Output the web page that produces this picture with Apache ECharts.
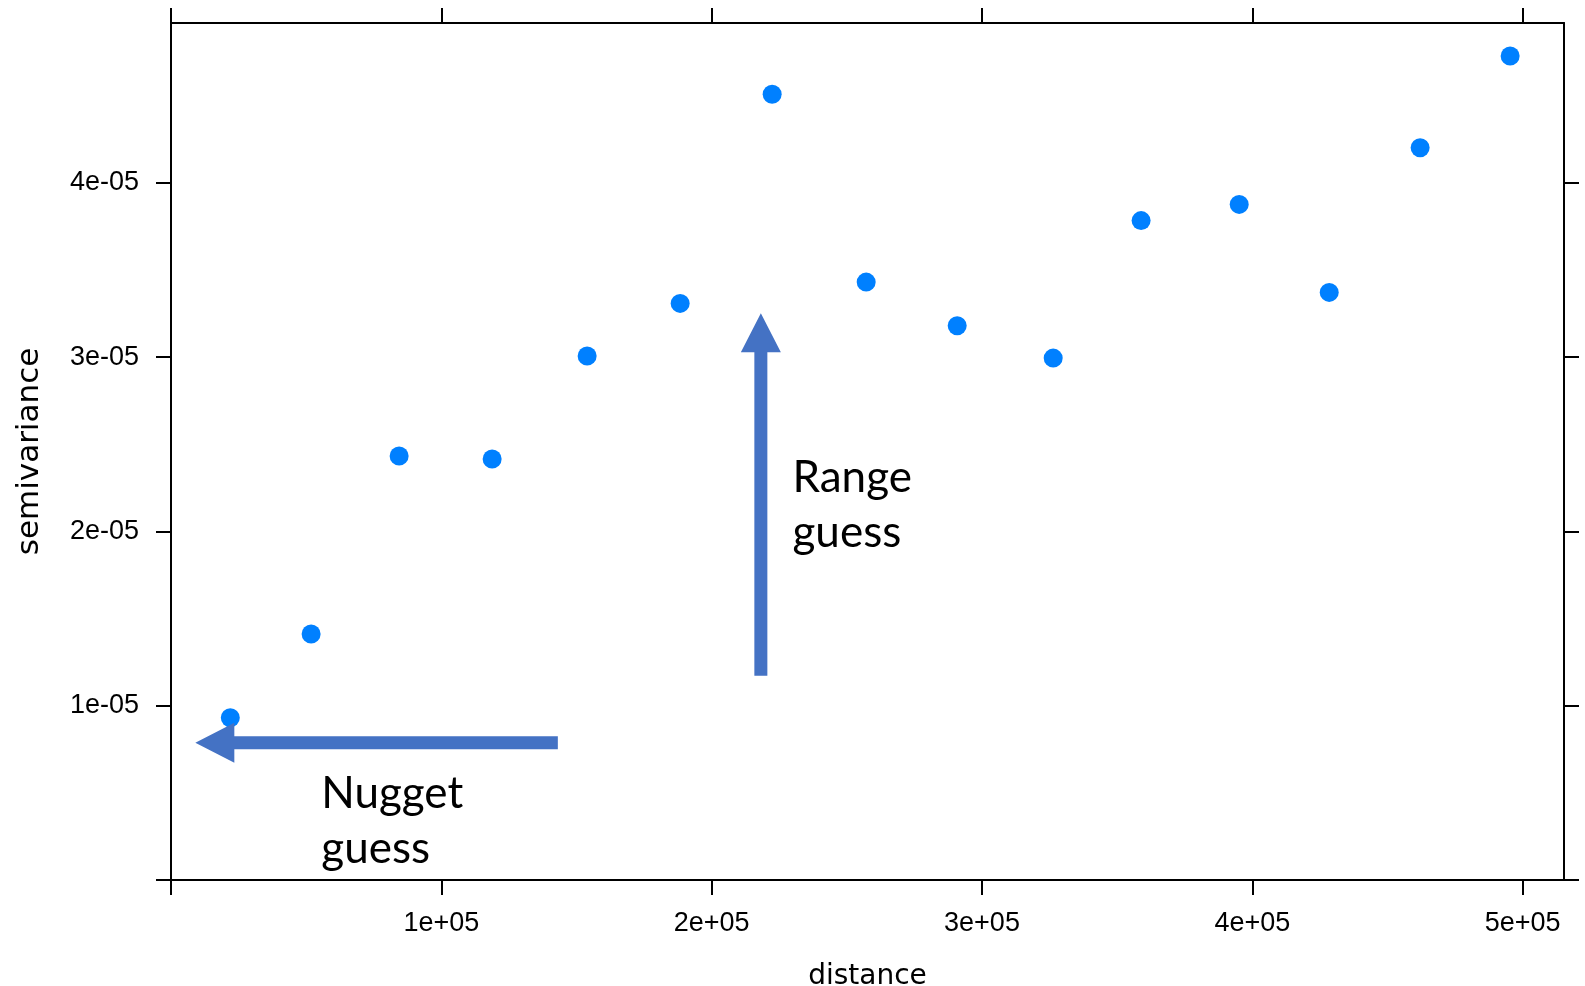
<!DOCTYPE html>
<html>
<head>
<meta charset="utf-8">
<title>Semivariogram</title>
<script src="https://cdn.jsdelivr.net/npm/echarts@6/dist/echarts.min.js"></script>
<style>
  html, body { margin: 0; padding: 0; background: #fff; }
  #chart { width: 1585px; height: 986px; }
</style>
</head>
<body>
<div id="chart"></div>
<script>
// Empirical semivariogram: lag distance vs semivariance
const distance = [21940, 51830, 84390, 118800, 153940, 188350, 222380, 257160,
                  290830, 326340, 358860, 395150, 428450, 462080, 495380];
const semivariance = [0.931e-5, 1.412e-5, 2.433e-5, 2.416e-5, 3.007e-5, 3.309e-5,
                      4.509e-5, 3.431e-5, 3.181e-5, 2.995e-5, 3.784e-5, 3.877e-5,
                      3.372e-5, 4.202e-5, 4.729e-5];

const xTicks = [0, 100000, 200000, 300000, 400000, 500000];
const yTicks = [0, 1e-5, 2e-5, 3e-5, 4e-5];
const xRange = [0, 515300];
const yRange = [0, 4.918e-5];

// Annotation arrows: [fromX, fromY, toX, toY] in data units
const nuggetArrow = [143100, 0.788e-5, 9000, 0.788e-5];
const rangeArrow = [218200, 1.172e-5, 218200, 3.252e-5];
// Annotation text anchors (top-left of text block) in data units
const nuggetNote = { text: 'Nugget\nguess', x: 55600, y: 0.651e-5 };
const rangeNote = { text: 'Range\nguess', x: 229900, y: 2.466e-5 };

const ARROW_COLOR = '#4472C4';
const POINT_COLOR = '#0080FF';

function sci(v) {
  if (v === 0) return '0';
  const e = Math.floor(Math.log10(Math.abs(v)) + 1e-9);
  const m = Math.round(v / Math.pow(10, e));
  const sign = e < 0 ? '-' : '+';
  const ae = Math.abs(e);
  return m + 'e' + sign + (ae < 10 ? '0' + ae : '' + ae);
}

const lineStyle = { color: '#000', width: 2 };
const tickFont = { fontFamily: '"Liberation Sans", Arial, sans-serif', fontSize: 27, color: '#000' };

const points = distance.map((d, i) => [d, semivariance[i]]);
const arrows = [nuggetArrow, rangeArrow];
const notes = [nuggetNote, rangeNote];

const chart = echarts.init(document.getElementById('chart'), null, { renderer: 'canvas' });

chart.setOption({
  animation: false,
  backgroundColor: '#fff',
  grid: { left: 171, right: 21, top: 23, bottom: 106, containLabel: false, outerBoundsMode: 'none' },
  xAxis: [
    {
      type: 'value', position: 'bottom', min: xRange[0], max: xRange[1],
      name: 'distance', nameLocation: 'middle', nameGap: 83,
      nameTextStyle: { fontFamily: '"DejaVu Sans", sans-serif', fontSize: 28, color: '#000' },
      axisLine: { show: true, onZero: false, lineStyle },
      axisTick: { show: true, inside: false, length: 15, lineStyle, customValues: xTicks },
      axisLabel: Object.assign({ margin: 30, customValues: xTicks.slice(1), formatter: sci }, tickFont),
      splitLine: { show: false }
    },
    {
      type: 'value', position: 'top', min: xRange[0], max: xRange[1],
      axisLine: { show: true, onZero: false, lineStyle },
      axisTick: { show: true, inside: false, length: 15, lineStyle, customValues: xTicks },
      axisLabel: { show: false },
      splitLine: { show: false }
    }
  ],
  yAxis: [
    {
      type: 'value', position: 'left', min: yRange[0], max: yRange[1],
      name: 'semivariance', nameLocation: 'middle', nameGap: 126, nameRotate: 90,
      nameTextStyle: { fontFamily: '"DejaVu Sans", sans-serif', fontSize: 31, color: '#000' },
      axisLine: { show: true, onZero: false, lineStyle },
      axisTick: { show: true, inside: false, length: 15, lineStyle, customValues: yTicks },
      axisLabel: Object.assign({ margin: 32, customValues: yTicks.slice(1), formatter: sci }, tickFont),
      splitLine: { show: false }
    },
    {
      type: 'value', position: 'right', min: yRange[0], max: yRange[1],
      axisLine: { show: true, onZero: false, lineStyle },
      axisTick: { show: true, inside: false, length: 15, lineStyle, customValues: yTicks },
      axisLabel: { show: false },
      splitLine: { show: false }
    }
  ],
  series: [
    {
      type: 'scatter',
      xAxisIndex: 0, yAxisIndex: 0,
      data: points,
      symbol: 'circle',
      symbolSize: 19,
      itemStyle: { color: POINT_COLOR, opacity: 1 },
      z: 3
    },
    {
      // Block arrows pointing at the nugget and range estimates
      type: 'custom',
      xAxisIndex: 0, yAxisIndex: 0,
      data: arrows,
      clip: false,
      z: 4,
      renderItem: function (params, api) {
        const p1 = api.coord([api.value(0), api.value(1)]);
        const p2 = api.coord([api.value(2), api.value(3)]);
        const dx = p2[0] - p1[0], dy = p2[1] - p1[1];
        const len = Math.sqrt(dx * dx + dy * dy);
        const ux = dx / len, uy = dy / len;
        const nx = -uy, ny = ux;
        const shaftHalf = 6.5, headHalf = 20, headLen = 39;
        const bx = p2[0] - ux * headLen, by = p2[1] - uy * headLen;
        const pts = [
          [p1[0] + nx * shaftHalf, p1[1] + ny * shaftHalf],
          [bx + nx * shaftHalf, by + ny * shaftHalf],
          [bx + nx * headHalf, by + ny * headHalf],
          [p2[0], p2[1]],
          [bx - nx * headHalf, by - ny * headHalf],
          [bx - nx * shaftHalf, by - ny * shaftHalf],
          [p1[0] - nx * shaftHalf, p1[1] - ny * shaftHalf]
        ];
        return { type: 'polygon', shape: { points: pts }, style: { fill: ARROW_COLOR } };
      }
    },
    {
      // Text beside the arrows
      type: 'custom',
      xAxisIndex: 0, yAxisIndex: 0,
      data: notes.map(n => [n.x, n.y]),
      clip: false,
      z: 4,
      renderItem: function (params, api) {
        const p = api.coord([api.value(0), api.value(1)]);
        return {
          type: 'text',
          x: p[0], y: p[1],
          style: {
            text: notes[params.dataIndex].text,
            fill: '#000',
            font: '44px Lato, "Open Sans", sans-serif',
            lineHeight: 55,
            align: 'left',
            verticalAlign: 'top'
          }
        };
      }
    }
  ]
});
</script>
</body>
</html>
